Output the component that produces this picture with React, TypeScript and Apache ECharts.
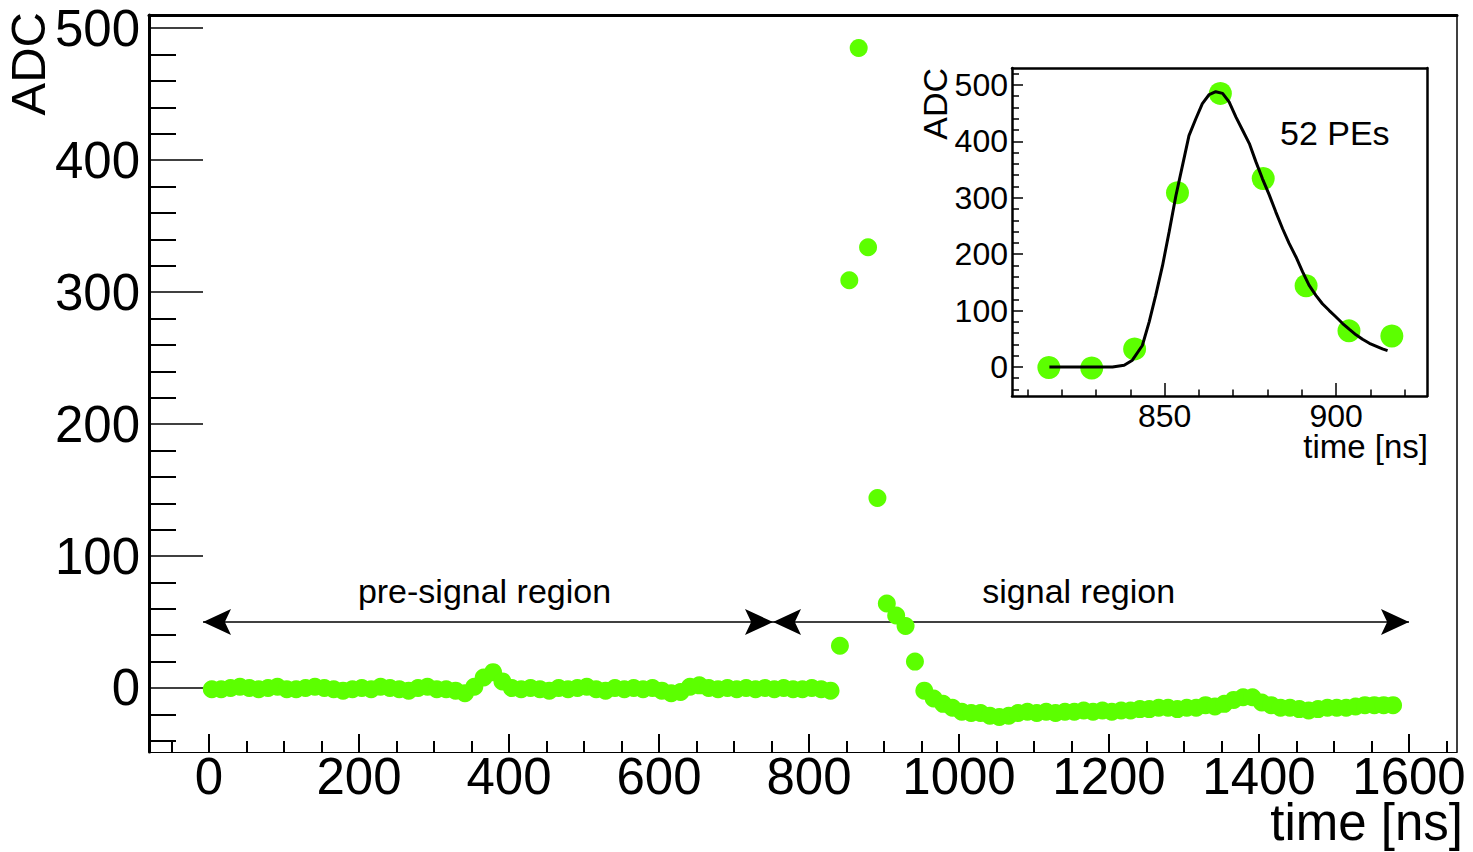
import React, { useEffect, useRef } from "react";
import * as echarts from "echarts";

// ---------- data ----------
const SAMPLE_START_NS = 3.75;
const SAMPLE_PERIOD_NS = 12.5;

// ADC value of every digitizer sample
const ADC_SAMPLES: number[] = [
  -1, -1, 0, 1, 0, -1, 0, 1, -1, -1,
  0, 1, 0, -1, -2, -1, 0, -1, 1, 0,
  -1, -2, 0, 1, -1, -1, -2, -4, 1, 8,
  12, 5, 0, -1, 0, -1, -2, 0, -1, 0,
  1, -1, -2, 0, -1, 0, -1, 0, -2, -4,
  -3, 1, 2, 0, -1, 0, -1, 0, -1, 0,
  -1, 0, -1, -1, 0,
  -1, -2, 32, 309, 485, 334, 144, 64, 55, 47, 20, -2,
  -8, -12, -15, -18, -19, -19, -21, -22, -21, -19,
  -18, -19, -18, -19, -18, -18, -17, -18, -17, -18,
  -17, -17, -16, -16, -15, -15, -16, -15, -15, -13,
  -14, -12, -9, -7, -7, -11, -13, -15, -15, -16,
  -17, -16, -15, -15, -15, -14, -13, -13, -13, -13,
];

// fitted pulse shape shown in the inset
const FIT_TIME_NS = [
  816.4, 834.8, 838.2, 840.6, 843.5, 845.5, 847.4, 849.4, 851.3, 853.3,
  855.2, 857.1, 859.1, 861.0, 863.0, 864.9, 866.9, 868.8, 870.8, 872.7,
  874.7, 876.6, 878.5, 880.5, 882.4, 884.4, 886.3, 888.3, 890.2, 892.1,
  894.1, 896.0, 898.0, 899.9, 901.9, 903.8, 905.8, 907.7, 909.7, 911.6,
  913.5, 915.0,
];
const FIT_ADC = [
  0, 0, 3, 12, 38, 80, 127, 180, 239, 304,
  357, 410, 440, 467, 483, 488, 485, 470, 443, 420,
  396, 364, 334, 305, 275, 245, 219, 195, 169, 145,
  127, 112, 100, 89, 77, 67, 57, 49, 42, 37,
  32, 29,
];

// axis ranges and tick labels
const MAIN_X_RANGE = [-80, 1664];
const MAIN_Y_RANGE = [-48.5, 510];
const INSET_X_RANGE = [805.5, 926.5];
const INSET_Y_RANGE = [-51.5, 530];
const MAIN_X_TICKS = [0, 200, 400, 600, 800, 1000, 1200, 1400, 1600];
const MAIN_Y_TICKS = [0, 100, 200, 300, 400, 500];
const INSET_X_TICKS = [850, 900];
const INSET_Y_TICKS = [0, 100, 200, 300, 400, 500];

// region arrows: [start ns, end ns, ADC level]
const REGION_ARROWS = [
  [-8, 752, 50],
  [752, 1600, 50],
];

const PE_LABEL = "52 PEs";
const PRE_LABEL = "pre-signal region";
const SIG_LABEL = "signal region";
const X_TITLE = "time [ns]";
const Y_TITLE = "ADC";

// ---------- style ----------
const GREEN = "#5CFF00";
const FONT = "'Liberation Sans', Arial, Helvetica, sans-serif";

export default function App() {
  const ref = useRef<HTMLDivElement>(null);

  useEffect(() => {
    const el = ref.current;
    if (!el) return;
    const chart = echarts.init(el, undefined, { renderer: "svg" });

    const points: number[][] = ADC_SAMPLES.map((v, i) => [
      SAMPLE_START_NS + i * SAMPLE_PERIOD_NS,
      v,
    ]);
    const insetPoints = points.filter(
      (p) => p[0] >= INSET_X_RANGE[0] && p[0] <= INSET_X_RANGE[1]
    );
    const fitLine = FIT_TIME_NS.map((t, i) => [t, FIT_ADC[i]]);
    const fmt = (v: number) => String(v);

    const frameAxis = (gridIndex: number, position: string, width: number, range: number[]) => ({
      type: "value",
      gridIndex,
      position,
      min: range[0],
      max: range[1],
      axisLine: { show: true, onZero: false, lineStyle: { color: "#000", width } },
      axisTick: { show: false },
      axisLabel: { show: false },
      splitLine: { show: false },
    });

    const valueAxis = (cfg: {
      gridIndex: number;
      position: string;
      range: number[];
      ticks: number[];
      step: number;
      minorSplit: number;
      lineWidth: number;
      tickLen: number;
      minorLen: number;
      tickWidth: number;
      minorWidth: number;
      fontSize: number;
      lineHeight: number;
      margin: number;
    }) => ({
      type: "value",
      gridIndex: cfg.gridIndex,
      position: cfg.position,
      min: cfg.range[0],
      max: cfg.range[1],
      minInterval: cfg.step,
      maxInterval: cfg.step,
      splitNumber: Math.round((cfg.range[1] - cfg.range[0]) / cfg.step),
      axisLine: { show: true, onZero: false, lineStyle: { color: "#000", width: cfg.lineWidth } },
      axisTick: {
        show: true,
        inside: true,
        length: cfg.tickLen,
        customValues: cfg.ticks,
        lineStyle: { color: "#000", width: cfg.tickWidth },
      },
      minorTick: {
        show: true,
        splitNumber: cfg.minorSplit,
        length: cfg.minorLen,
        lineStyle: { color: "#000", width: cfg.minorWidth },
      },
      axisLabel: {
        show: true,
        margin: cfg.margin,
        fontSize: cfg.fontSize,
        lineHeight: cfg.lineHeight,
        color: "#000",
        fontFamily: FONT,
        customValues: cfg.ticks,
        formatter: fmt,
      },
      splitLine: { show: false },
    });

    const option: any = {
      animation: false,
      backgroundColor: "#fff",
      grid: [
        { left: 149, top: 15, right: 16, bottom: 100 },
        {
          left: 1012,
          top: 68,
          width: 415,
          height: 328,
          show: true,
          backgroundColor: "#fff",
          borderWidth: 0,
        },
      ],
      xAxis: [
        valueAxis({
          gridIndex: 0, position: "bottom", range: MAIN_X_RANGE, ticks: MAIN_X_TICKS,
          step: 200, minorSplit: 4, lineWidth: 1.2, tickLen: 18, minorLen: 11,
          tickWidth: 2, minorWidth: 2, fontSize: 51, lineHeight: 40, margin: 4.5,
        }),
        frameAxis(0, "top", 3, MAIN_X_RANGE),
        valueAxis({
          gridIndex: 1, position: "bottom", range: INSET_X_RANGE, ticks: INSET_X_TICKS,
          step: 50, minorSplit: 5, lineWidth: 2.5, tickLen: 13, minorLen: 6.5,
          tickWidth: 1.5, minorWidth: 1.5, fontSize: 32, lineHeight: 26, margin: 7,
        }),
        frameAxis(1, "top", 2.5, INSET_X_RANGE),
      ],
      yAxis: [
        valueAxis({
          gridIndex: 0, position: "left", range: MAIN_Y_RANGE, ticks: MAIN_Y_TICKS,
          step: 100, minorSplit: 5, lineWidth: 3, tickLen: 54, minorLen: 27,
          tickWidth: 1.5, minorWidth: 2, fontSize: 51, lineHeight: 51, margin: 9,
        }),
        frameAxis(0, "right", 1.5, MAIN_Y_RANGE),
        valueAxis({
          gridIndex: 1, position: "left", range: INSET_Y_RANGE, ticks: INSET_Y_TICKS,
          step: 100, minorSplit: 5, lineWidth: 2.5, tickLen: 11, minorLen: 7,
          tickWidth: 1.5, minorWidth: 1.5, fontSize: 32, lineHeight: 32, margin: 4,
        }),
        frameAxis(1, "right", 2.5, INSET_Y_RANGE),
      ],
      series: [
        {
          type: "custom",
          coordinateSystem: "cartesian2d",
          xAxisIndex: 0,
          yAxisIndex: 0,
          data: REGION_ARROWS,
          encode: { x: [0, 1], y: 2 },
          clip: false,
          silent: true,
          z: 2,
          renderItem: (_params: any, api: any) => {
            const y = api.value(2);
            const p0 = api.coord([api.value(0), y]);
            const p1 = api.coord([api.value(1), y]);
            const L = 28;
            const H = 13;
            const head = (tip: number[], dir: number) => ({
              type: "polygon",
              shape: {
                points: [
                  [tip[0], tip[1]],
                  [tip[0] + dir * L, tip[1] - H],
                  [tip[0] + dir * L * 0.78, tip[1]],
                  [tip[0] + dir * L, tip[1] + H],
                ],
              },
              style: { fill: "#000", stroke: "none" },
            });
            return {
              type: "group",
              children: [
                {
                  type: "line",
                  shape: { x1: p0[0], y1: p0[1], x2: p1[0], y2: p1[1] },
                  style: { stroke: "#000", lineWidth: 1.6 },
                },
                head(p0, 1),
                head(p1, -1),
              ],
            };
          },
        },
        {
          type: "scatter",
          xAxisIndex: 0,
          yAxisIndex: 0,
          data: points,
          symbol: "circle",
          symbolSize: 18,
          itemStyle: { color: GREEN, opacity: 1 },
          silent: true,
          z: 3,
        },
        {
          type: "scatter",
          xAxisIndex: 2,
          yAxisIndex: 2,
          data: insetPoints,
          symbol: "circle",
          symbolSize: 23,
          itemStyle: { color: GREEN, opacity: 1 },
          silent: true,
          z: 3,
        },
        {
          type: "line",
          xAxisIndex: 2,
          yAxisIndex: 2,
          data: fitLine,
          showSymbol: false,
          symbol: "none",
          lineStyle: { color: "#000", width: 3 },
          silent: true,
          z: 4,
        },
      ],
      graphic: [
        {
          type: "text",
          x: 27.5,
          y: 12,
          rotation: Math.PI / 2,
          style: {
            text: Y_TITLE,
            font: `49px ${FONT}`,
            fill: "#000",
            textAlign: "right",
            textVerticalAlign: "middle",
          },
        },
        {
          type: "text",
          x: 1463,
          y: 822,
          style: {
            text: X_TITLE,
            font: `51px ${FONT}`,
            fill: "#000",
            textAlign: "right",
            textVerticalAlign: "middle",
          },
        },
        {
          type: "text",
          x: 935,
          y: 68,
          rotation: Math.PI / 2,
          style: {
            text: Y_TITLE,
            font: `34px ${FONT}`,
            fill: "#000",
            textAlign: "right",
            textVerticalAlign: "middle",
          },
        },
        {
          type: "text",
          x: 1428,
          y: 446,
          style: {
            text: X_TITLE,
            font: `33px ${FONT}`,
            fill: "#000",
            textAlign: "right",
            textVerticalAlign: "middle",
          },
        },
        {
          type: "text",
          x: 1280,
          y: 132.5,
          style: {
            text: PE_LABEL,
            font: `34px ${FONT}`,
            fill: "#000",
            textAlign: "left",
            textVerticalAlign: "middle",
          },
        },
        {
          type: "text",
          x: 484.5,
          y: 591,
          style: {
            text: PRE_LABEL,
            font: `34px ${FONT}`,
            fill: "#000",
            textAlign: "center",
            textVerticalAlign: "middle",
          },
        },
        {
          type: "text",
          x: 1078.7,
          y: 591,
          style: {
            text: SIG_LABEL,
            font: `34px ${FONT}`,
            fill: "#000",
            textAlign: "center",
            textVerticalAlign: "middle",
          },
        },
      ],
    };

    chart.setOption(option);
    return () => {
      chart.dispose();
    };
  }, []);

  return (
    <div
      ref={ref}
      style={{
        position: "absolute",
        left: 0,
        top: 0,
        width: 1473,
        height: 852,
        background: "#fff",
      }}
    />
  );
}
